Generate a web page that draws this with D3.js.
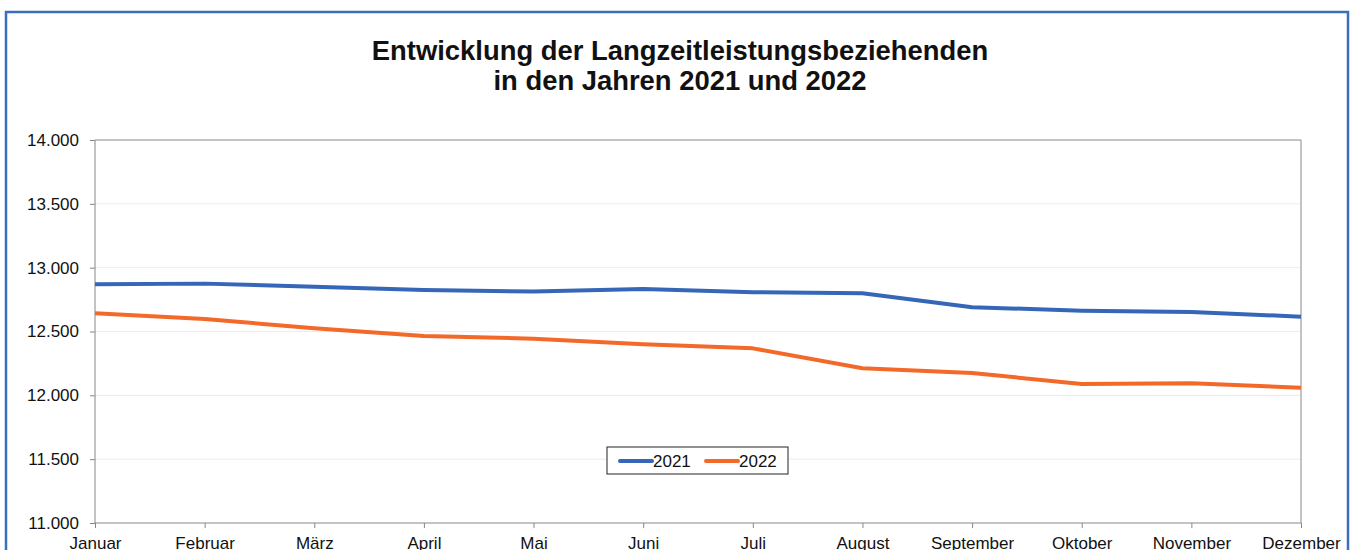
<!DOCTYPE html>
<html>
<head>
<meta charset="UTF-8" />
<style>
    body { margin: 0; padding: 0; background: #fff; font-family: "Liberation Sans", Arial, sans-serif; }
    .grid line { stroke: #ececec; stroke-width: 1px; }
    .axis path, .axis line { stroke: #888; }
    .axis text { font-size: 17px; fill: #111; font-family: "Liberation Sans", Arial, sans-serif; }
</style>
<title>Langzeitleistungsbeziehende</title>
</head>
<body>
<svg width="1355" height="550"></svg>
<script src="https://d3js.org/d3.v7.min.js"></script>
<script>
    const months = ["Januar", "Februar", "März", "April", "Mai", "Juni", "Juli", "August", "September", "Oktober", "November", "Dezember"];
    const values2021 = [12870, 12875, 12850, 12825, 12813, 12833, 12808, 12800, 12690, 12663, 12653, 12616];
    const values2022 = [12643, 12598, 12525, 12465, 12444, 12400, 12368, 12212, 12175, 12089, 12094, 12060];
    const yTicks = [11000, 11500, 12000, 12500, 13000, 13500, 14000];

    const series = [
        { name: "2021", values: values2021, color: "#3566b8" },
        { name: "2022", values: values2022, color: "#f2692a" }
    ];

    const svg = d3.select("svg");
    const margin = { left: 95, right: 1301, top: 140, bottom: 523 };

    // outer blue frame (cut off at bottom like in the source)
    svg.append("rect")
        .attr("x", 6).attr("y", 12)
        .attr("width", 1342).attr("height", 560)
        .attr("fill", "none")
        .attr("stroke", "#3a6fc0")
        .attr("stroke-width", 2.5);

    // title
    const title = svg.append("text")
        .attr("text-anchor", "middle")
        .attr("font-size", 27.4)
        .attr("font-weight", "bold")
        .attr("fill", "#111");
    title.append("tspan").attr("x", 680).attr("y", 60).text("Entwicklung der Langzeitleistungsbeziehenden");
    title.append("tspan").attr("x", 680).attr("y", 90).text("in den Jahren 2021 und 2022");

    const x = d3.scalePoint().domain(months).range([margin.left, margin.right]);
    const y = d3.scaleLinear().domain([11000, 14000]).range([margin.bottom, margin.top]);

    // gridlines
    svg.append("g").attr("class", "grid")
        .selectAll("line")
        .data(yTicks.filter(d => d > 11000 && d < 14000))
        .enter().append("line")
        .attr("x1", margin.left).attr("x2", margin.right)
        .attr("y1", d => y(d)).attr("y2", d => y(d));

    // plot border top/right
    svg.append("path")
        .attr("d", `M${margin.left},${margin.top}H${margin.right}V${margin.bottom}`)
        .attr("fill", "none")
        .attr("stroke", "#888");

    const fmt = d3.formatLocale({ decimal: ",", thousands: ".", grouping: [3], currency: ["", "€"] }).format(",");

    svg.append("g").attr("class", "axis")
        .attr("transform", `translate(${margin.left},0)`)
        .call(d3.axisLeft(y).tickValues(yTicks).tickFormat(fmt).tickSize(5).tickPadding(11))
        .call(g => g.select(".domain").attr("d", `M0,${margin.top}V${margin.bottom}`));

    svg.append("g").attr("class", "axis")
        .attr("transform", `translate(0,${margin.bottom})`)
        .call(d3.axisBottom(x).tickSize(5).tickPadding(9))
        .call(g => g.select(".domain").attr("d", `M${margin.left},0H${margin.right}`));

    const line = d3.line()
        .x((d, i) => x(months[i]))
        .y(d => y(d));

    svg.append("g").selectAll("path.series")
        .data(series)
        .enter().append("path")
        .attr("class", "series")
        .attr("d", d => line(d.values))
        .attr("fill", "none")
        .attr("stroke", d => d.color)
        .attr("stroke-width", 4)
        .attr("stroke-linejoin", "round");

    // legend
    const legend = svg.append("g").attr("transform", "translate(607,447)");
    legend.append("rect")
        .attr("width", 181).attr("height", 27)
        .attr("fill", "#fff")
        .attr("stroke", "#222")
        .attr("stroke-width", 1);
    const item = legend.selectAll("g.item")
        .data(series)
        .enter().append("g")
        .attr("class", "item")
        .attr("transform", (d, i) => `translate(${13 + i * 86},0)`);
    item.append("line")
        .attr("x1", 0).attr("x2", 32)
        .attr("y1", 14).attr("y2", 14)
        .attr("stroke", d => d.color)
        .attr("stroke-width", 4)
        .attr("stroke-linecap", "round");
    item.append("text")
        .attr("x", 33).attr("y", 20)
        .attr("font-size", 17)
        .attr("fill", "#111")
        .text(d => d.name);
</script>
</body>
</html>
